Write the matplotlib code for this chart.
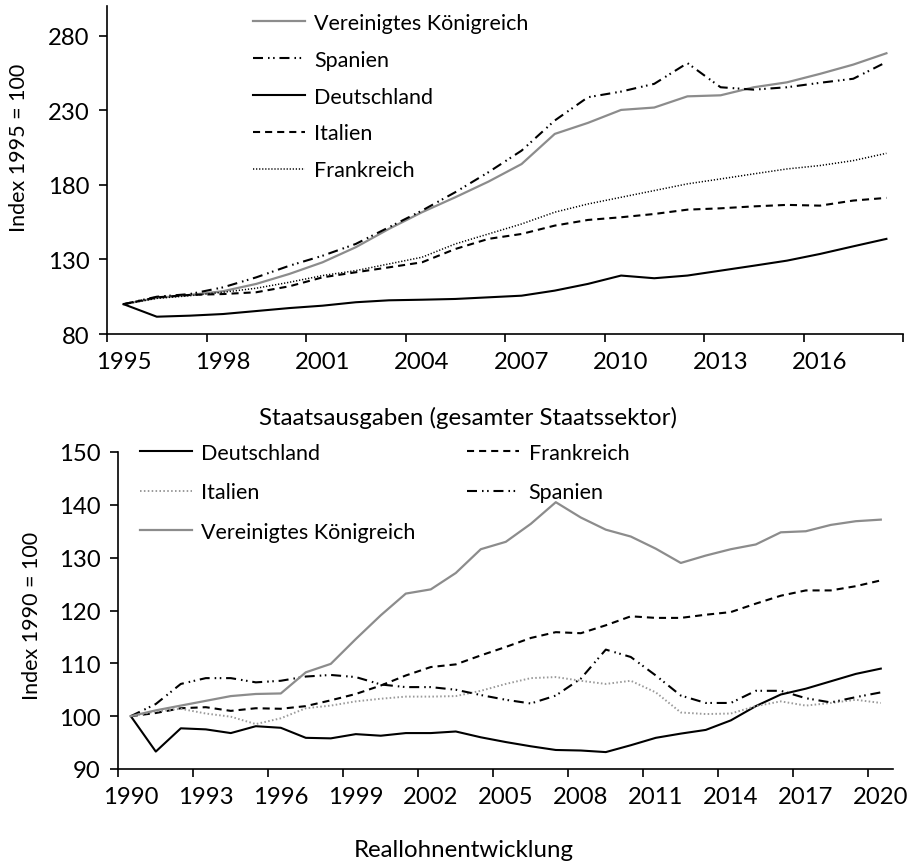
import numpy as np
import matplotlib
matplotlib.use("Agg")
import matplotlib.pyplot as plt

plt.rcParams['font.family'] = ['Lato', 'DejaVu Sans']

# Staatsausgaben (gesamter Staatssektor), Index 1995 = 100
years_top = list(range(1995, 2019))
uk_top = [100, 104.2, 106.2, 108.7, 113.6, 120.3, 128.1, 138.2, 150.5, 161.7,
          171.7, 182.2, 194.0, 214.2, 221.6, 230.3, 231.9, 239.4, 240.1, 245.5,
          248.8, 254.5, 260.7, 268.3]
es_top = [100, 105.0, 106.8, 111.3, 118.0, 125.8, 132.5, 140.4, 151.6, 162.8,
          175.1, 188.5, 203.0, 223.2, 238.8, 242.6, 247.8, 261.7, 245.5, 243.9,
          245.5, 248.5, 251.2, 262.4]
de_top = [100, 91.6, 92.3, 93.4, 95.4, 97.4, 99.0, 101.3, 102.6, 103.0,
          103.5, 104.6, 105.7, 109.1, 113.6, 119.2, 117.4, 119.2, 122.5, 125.8,
          129.2, 133.7, 138.8, 143.8]
it_top = [100, 104.6, 106.2, 106.8, 108.0, 112.0, 118.0, 121.4, 124.7, 128.1,
          137.0, 143.8, 147.1, 152.7, 156.5, 158.3, 160.5, 163.4, 164.3, 165.6,
          166.6, 166.1, 169.5, 171.3]
fr_top = [100, 103.9, 105.7, 108.0, 110.7, 114.7, 119.2, 122.5, 127.0, 131.5,
          140.4, 147.1, 153.8, 161.7, 167.2, 171.7, 176.2, 180.7, 184.0, 187.4,
          190.7, 193.0, 196.3, 201.2]

# Reallohnentwicklung, Index 1990 = 100
years_bot = list(range(1990, 2021))
de_bot = [100, 93.3, 97.7, 97.5, 96.8, 98.1, 97.8, 95.9, 95.8, 96.6, 96.3,
          96.8, 96.8, 97.1, 96.0, 95.1, 94.3, 93.6, 93.5, 93.2, 94.5, 95.9,
          96.7, 97.4, 99.2, 101.9, 104.1, 105.2, 106.6, 108.0, 109.0]
fr_bot = [100, 100.6, 101.5, 101.7, 101.0, 101.5, 101.4, 101.9, 103.0, 104.2,
          105.8, 107.7, 109.3, 109.8, 111.5, 113.1, 114.8, 115.9, 115.7, 117.2,
          118.9, 118.6, 118.6, 119.2, 119.7, 121.3, 122.8, 123.8, 123.8, 124.6,
          125.7]
it_bot = [100, 100.9, 101.4, 100.5, 99.9, 98.5, 99.6, 101.5, 102.0, 102.8,
          103.3, 103.7, 103.7, 103.8, 104.8, 106.1, 107.2, 107.4, 106.7, 106.1,
          106.7, 104.5, 100.7, 100.4, 100.5, 101.9, 102.8, 102.0, 102.5, 103.1,
          102.5]
es_bot = [100, 102.3, 106.1, 107.2, 107.2, 106.4, 106.7, 107.5, 107.8, 107.4,
          106.0, 105.5, 105.5, 105.0, 104.0, 103.1, 102.4, 103.9, 107.1, 112.6,
          111.2, 107.7, 103.9, 102.5, 102.5, 104.8, 104.8, 103.4, 102.6, 103.6,
          104.5]
uk_bot = [100, 101.1, 102.0, 102.9, 103.8, 104.2, 104.3, 108.3, 109.9, 114.6,
          119.1, 123.2, 124.0, 127.1, 131.6, 133.0, 136.4, 140.5, 137.6, 135.3,
          134.0, 131.7, 129.0, 130.4, 131.6, 132.5, 134.8, 135.0, 136.2, 136.9,
          137.2]

FS = 15.5      # legend, y labels
FS_TICK = 17.2
FS_TITLE = 17.3
GRAY = '#8c8c8c'
dash_es = (4.8, 2.4, 0.75, 1.7, 0.75, 2.3)
dash_it = (3.4, 2.4)
dash_fr = (0.8, 1.2)

fig = plt.figure(figsize=(9.11, 8.62), dpi=100)
ax1 = fig.add_axes([107/911, 1 - 335/862, (903 - 107)/911, (335 - 7)/862])
ax2 = fig.add_axes([118.3/911, 1 - 770/862, (893.3 - 118.3)/911, (770 - 453)/862])


def style_axis(ax, first, last, step):
    for s in ['top', 'right']:
        ax.spines[s].set_visible(False)
    for s in ['left', 'bottom']:
        ax.spines[s].set_linewidth(1.2)
    ax.set_xlim(first - 0.5, last + 0.5)
    bounds = np.arange(first - 0.5, last + 0.6, step)
    ax.set_xticks(bounds)
    ax.set_xticklabels([])
    centers = list(range(first, last + 1, step))
    ax.set_xticks(centers, [str(c) for c in centers], minor=True)
    ax.tick_params(axis='x', which='major', length=5.5, width=1.2, direction='out')
    ax.tick_params(axis='x', which='minor', length=0, pad=12.5, labelsize=FS_TICK)
    ax.tick_params(axis='y', length=5.5, width=1.2, direction='out', pad=7,
                   labelsize=FS_TICK)


# top chart
ax1.plot(years_top, uk_top, color=GRAY, lw=1.6, label='Vereinigtes Königreich')
ax1.plot(years_top, es_top, color='black', lw=1.5, dashes=dash_es, label='Spanien')
ax1.plot(years_top, de_top, color='black', lw=1.5, label='Deutschland')
ax1.plot(years_top, it_top, color='black', lw=1.5, dashes=dash_it, label='Italien')
ax1.plot(years_top, fr_top, color='black', lw=1.1, dashes=dash_fr, label='Frankreich')
style_axis(ax1, 1995, 2018, 3)
ax1.set_ylim(80, 300)
ax1.set_yticks([80, 130, 180, 230, 280])
ax1.legend(loc='upper left', bbox_to_anchor=(253/911, 1 - 14/862),
           bbox_transform=fig.transFigure, frameon=False, fontsize=FS,
           handlelength=2.4, handletextpad=0.45, labelspacing=0.78,
           borderpad=0, borderaxespad=0)

# bottom chart
l_de, = ax2.plot(years_bot, de_bot, color='black', lw=1.5, label='Deutschland')
l_fr, = ax2.plot(years_bot, fr_bot, color='black', lw=1.5, dashes=dash_it, label='Frankreich')
l_it, = ax2.plot(years_bot, it_bot, color='#9a9a9a', lw=1.4, dashes=dash_fr, label='Italien')
l_es, = ax2.plot(years_bot, es_bot, color='black', lw=1.5, dashes=dash_es, label='Spanien')
l_uk, = ax2.plot(years_bot, uk_bot, color=GRAY, lw=1.6, label='Vereinigtes Königreich')
style_axis(ax2, 1990, 2020, 3)
ax2.set_ylim(90, 150)
ax2.set_yticks(range(90, 151, 10))
hs = [l_de, l_it, l_uk, l_fr, l_es]
ax2.legend(hs, [h.get_label() for h in hs], ncol=2, loc='upper left',
           bbox_to_anchor=(140/911, 1 - 444/862), bbox_transform=fig.transFigure,
           frameon=False, fontsize=FS, handlelength=2.4, handletextpad=0.45,
           labelspacing=0.9, columnspacing=2.4, borderpad=0, borderaxespad=0)

fig.text(19.5/911, 1 - 148/862, 'Index 1995 = 100', rotation=90, ha='center',
         va='center', fontsize=FS)
fig.text(32.5/911, 1 - 616/862, 'Index 1990 = 100', rotation=90, ha='center',
         va='center', fontsize=FS)
fig.text(468/911, 1 - 425/862, 'Staatsausgaben (gesamter Staatssektor)',
         ha='center', va='baseline', fontsize=FS_TITLE)
fig.text(464/911, 1 - 857/862, 'Reallohnentwicklung', ha='center',
         va='baseline', fontsize=FS_TITLE)

fig.savefig('out.png', dpi=100)
